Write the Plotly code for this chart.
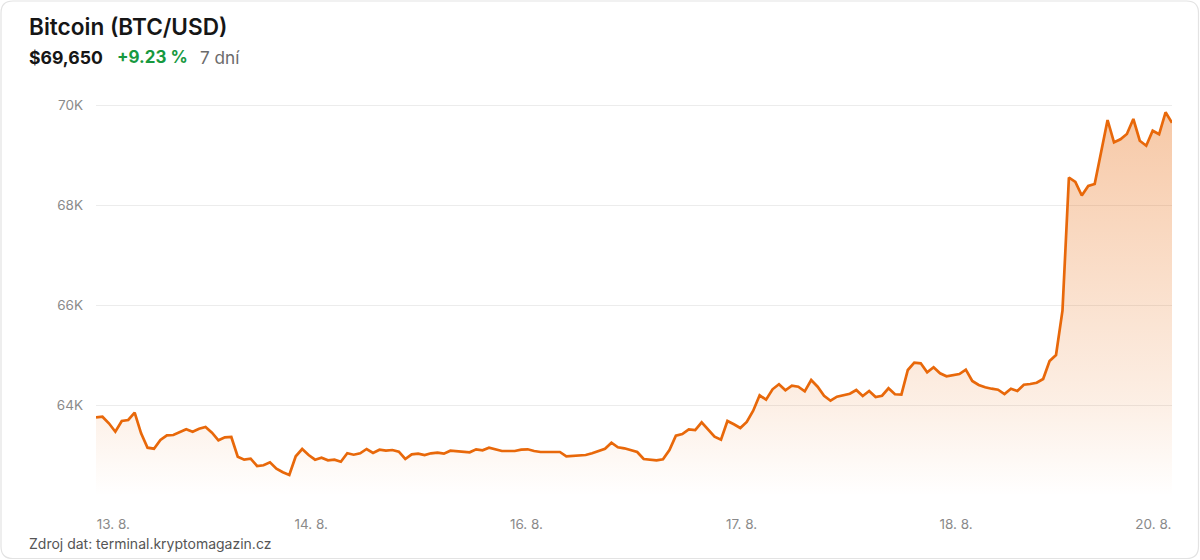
import plotly.graph_objects as go

# ---- data (hourly BTC/USD closes) ----
prices = [
    63754, 63766, 63634, 63466, 63680, 63700, 63846, 63434, 63146, 63126,
    63300, 63394, 63400, 63460, 63514, 63466, 63526, 63560, 63446, 63294,
    63354, 63360, 62966, 62906, 62926, 62780, 62794, 62854, 62726, 62654,
    62600, 62974, 63120, 63000, 62906, 62946, 62894, 62906, 62866, 63034,
    63006, 63034, 63120, 63040, 63106, 63086, 63100, 63066, 62920, 63014,
    63026, 63000, 63034, 63046, 63026, 63086, 63080, 63060, 63054, 63114,
    63094, 63146, 63120, 63080, 63080, 63080, 63106, 63114, 63080, 63060,
    63060, 63054, 63060, 62974, 62986, 62994, 63000, 63034, 63080, 63126,
    63246, 63154, 63134, 63100, 63060, 62920, 62906, 62894, 62914, 63100,
    63386, 63420, 63514, 63500, 63654, 63506, 63366, 63306, 63680, 63614,
    63540, 63660, 63886, 64194, 64106, 64314, 64414, 64294, 64386, 64366,
    64274, 64500, 64366, 64186, 64086, 64166, 64194, 64226, 64300, 64180,
    64280, 64160, 64186, 64334, 64214, 64206, 64700, 64846, 64834, 64654,
    64754, 64634, 64574, 64594, 64620, 64706, 64480, 64400, 64354, 64326,
    64306, 64220, 64326, 64280, 64406, 64420, 64446, 64520, 64880, 65000,
    65886, 68550, 68460, 68190, 68380, 68420, 69060, 69700, 69254, 69314,
    69420, 69720, 69286, 69186, 69486, 69414, 69854, 69646,
]
hours = list(range(len(prices)))

x_tick_labels = ["13. 8.", "14. 8.", "16. 8.", "17. 8.", "18. 8.", "20. 8."]
x_tick_index = [2.69, 33.4, 66.8, 100.2, 133.5, 164.1]
y_tick_values = [64000, 66000, 68000, 70000]
y_tick_labels = ["64K", "66K", "68K", "70K"]

title_text = "Bitcoin (BTC/USD)"
price_text = "$69,650"
change_text = "+9.23 %"
period_text = "7 dní"
source_text = "Zdroj dat: terminal.kryptomagazin.cz"

# ---- layout geometry ----
W, H = 1200, 560
ML, MR, MT, MB = 96, 28, 101, 64
PW, PH = W - ML - MR, H - MT - MB
Y_MIN, Y_MAX = 62180, 70080

def px(xp):
    return (xp - ML) / PW

def py(yp):
    return (H - MB - yp) / PH

FONT = "Inter, 'Open Sans', sans-serif"
ORANGE = "#e8680a"

fig = go.Figure()
fig.add_trace(go.Scatter(
    x=hours, y=prices, mode="lines",
    line=dict(color=ORANGE, width=2.7),
    fill="tozeroy",
    fillgradient=dict(
        type="vertical",
        start=Y_MIN, stop=max(prices),
        colorscale=[
            [0.0, "rgba(232,104,10,0.0)"],
            [0.25, "rgba(232,104,10,0.11)"],
            [0.55, "rgba(232,104,10,0.21)"],
            [1.0, "rgba(232,104,10,0.36)"],
        ],
    ),
    hoverinfo="skip",
    showlegend=False,
))

# rounded card border
r = 12
x0, y0, x1, y1 = 1, 1, W - 1.5, H - 1.5
path = (
    f"M {px(x0 + r)},{py(y0)} L {px(x1 - r)},{py(y0)} "
    f"Q {px(x1)},{py(y0)} {px(x1)},{py(y0 + r)} "
    f"L {px(x1)},{py(y1 - r)} Q {px(x1)},{py(y1)} {px(x1 - r)},{py(y1)} "
    f"L {px(x0 + r)},{py(y1)} Q {px(x0)},{py(y1)} {px(x0)},{py(y1 - r)} "
    f"L {px(x0)},{py(y0 + r)} Q {px(x0)},{py(y0)} {px(x0 + r)},{py(y0)} Z"
)
fig.add_shape(type="path", xref="paper", yref="paper", path=path,
              line=dict(color="#e3e3e3", width=1.2), layer="below")

def note(text, x, y, size, color, weight="normal", anchor="left"):
    fig.add_annotation(text=text, xref="paper", yref="paper",
                       x=px(x), y=py(y), xanchor=anchor, yanchor="middle",
                       showarrow=False,
                       font=dict(family=FONT, size=size, color=color,
                                 weight=weight))

note(title_text, 27, 27, 22.6, "#161616", weight=600)
note(price_text, 27, 57, 17.6, "#161616", weight=700)
note(change_text, 115, 57, 17, "#17993f", weight=700)
note(period_text, 198, 57, 17.2, "#6b6b6b")
note(source_text, 27, 543, 14, "#555555")

fig.update_layout(
    width=W, height=H,
    margin=dict(l=ML, r=MR, t=MT, b=MB),
    paper_bgcolor="white", plot_bgcolor="white",
    font=dict(family=FONT, size=13, color="#8a8a8a"),
    xaxis=dict(
        range=[0, len(prices) - 1],
        tickmode="array", tickvals=x_tick_index, ticktext=x_tick_labels,
        showgrid=False, zeroline=False, showline=False,
        ticks="", ticklabelstandoff=18,
        tickfont=dict(family=FONT, size=13.5, color="#8a8a8a"),
        fixedrange=True,
    ),
    yaxis=dict(
        range=[Y_MIN, Y_MAX],
        tickmode="array", tickvals=y_tick_values, ticktext=y_tick_labels,
        showgrid=True, gridcolor="#ececec", gridwidth=1,
        zeroline=False, showline=False,
        ticks="", ticklabelstandoff=12,
        tickfont=dict(family=FONT, size=13.5, color="#8a8a8a"),
        fixedrange=True,
    ),
)

fig.write_html(
    "out.html",
    config={"displayModeBar": False},
    post_script="document.body.style.margin='0';document.body.style.padding='0';",
)
